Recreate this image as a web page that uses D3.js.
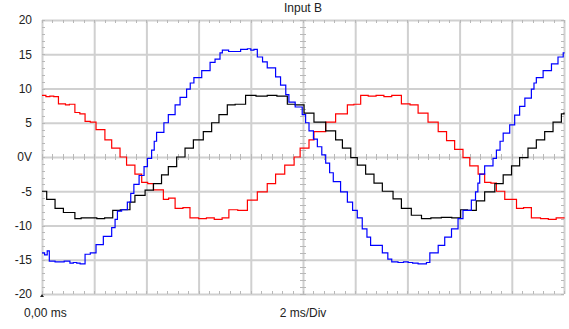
<!DOCTYPE html>
<html>
<head>
<meta charset="utf-8">
<script src="https://cdn.jsdelivr.net/npm/d3@7"></script>
<style>
  html, body { margin: 0; padding: 0; background: #fff; }
  svg { display: block; }
  text { font-family: "Liberation Sans", Arial, sans-serif; font-size: 12px; fill: #222; }
</style>
</head>
<body>
<svg id="chart" width="569" height="329"></svg>
<script>
// ---- data (time in ms, value in V) ----
const title = "Input B";
const xStartLabel = "0,00 ms";
const xDivLabel = "2 ms/Div";
const yTicks = [20, 15, 10, 5, 0, -5, -10, -15, -20];
const xGridTicks = [0, 2, 4, 6, 8, 10, 12, 14, 16, 18, 20];

const redSeries = [
  [0.00, 9.0], [0.15, 8.8], [0.30, 8.9], [0.45, 8.8], [0.63, 7.75], [0.9, 7.6], [1.05, 7.7],
  [1.26, 6.5], [1.45, 6.3], [1.65, 5.2], [1.85, 5.1], [2.07, 4.0], [2.41, 2.5], [2.67, 1.3],
  [2.99, 0.0], [3.24, -1.2], [3.56, -2.5], [3.82, -3.7], [4.05, -3.9], [4.27, -4.8],
  [4.65, -6.2], [4.85, -6.0], [5.10, -7.5], [5.40, -7.4], [5.67, -8.9], [6.0, -9.0],
  [6.3, -8.9], [6.6, -9.1], [6.9, -8.9], [7.16, -7.7], [7.5, -7.8], [7.87, -6.3],
  [8.25, -5.1], [8.63, -3.9], [8.95, -2.5], [9.30, -1.2], [9.66, 0.0], [9.89, 1.3],
  [10.23, 2.5], [10.42, 3.7], [10.87, 5.1], [11.25, 6.3], [11.70, 7.6], [11.95, 7.7],
  [12.21, 9.0], [12.5, 8.9], [12.8, 9.0], [13.1, 8.8], [13.4, 9.0], [13.77, 7.75],
  [14.1, 7.6], [14.41, 6.4], [14.79, 5.1], [15.18, 3.7], [15.50, 2.4], [15.81, 1.1],
  [16.13, -0.1], [16.39, -1.3], [16.71, -2.5], [16.96, -3.7], [17.2, -3.8], [17.41, -5.0],
  [17.73, -6.2], [18.18, -7.5], [18.45, -7.4], [18.75, -8.9], [19.1, -9.0], [19.4, -9.1],
  [19.7, -8.9], [20.0, -8.8]
];

const blueSeries = [
  [0.00, -14.0], [0.10, -14.3], [0.20, -13.7], [0.28, -15.2], [0.50, -15.3], [0.69, -15.3],
  [0.85, -15.2], [1.07, -15.5], [1.20, -15.4], [1.33, -15.5], [1.46, -15.6], [1.65, -14.2],
  [1.85, -14.0], [2.07, -12.8], [2.35, -11.6], [2.67, -10.3], [2.80, -9.1], [2.89, -7.9],
  [3.05, -7.7], [3.27, -6.6], [3.40, -5.3], [3.52, -4.0], [3.72, -2.7], [3.91, -1.4],
  [4.04, -0.2], [4.20, 1.0], [4.30, 2.3], [4.39, 3.6], [4.67, 5.0], [4.84, 6.2],
  [5.10, 7.6], [5.29, 8.7], [5.54, 9.9], [5.68, 10.8], [5.82, 11.6], [6.12, 12.6],
  [6.44, 13.8], [6.63, 14.3], [6.82, 15.2], [6.91, 15.6], [7.15, 15.4], [7.36, 15.4],
  [7.61, 15.7], [7.87, 15.8], [8.00, 15.6], [8.12, 15.7], [8.25, 14.6], [8.45, 13.9],
  [8.63, 13.0], [8.95, 11.7], [9.14, 10.5], [9.34, 9.1], [9.46, 8.0], [9.70, 7.3],
  [9.97, 6.2], [10.10, 5.0], [10.23, 3.8], [10.40, 2.6], [10.55, 1.5], [10.72, 0.3],
  [10.87, -0.9], [11.02, -2.3], [11.16, -3.6], [11.44, -5.1], [11.70, -6.6], [11.90, -7.8],
  [12.08, -8.9], [12.27, -10.5], [12.45, -11.7], [12.59, -12.9], [13.04, -14.0], [13.25, -14.9],
  [13.40, -15.3], [13.64, -15.4], [13.85, -15.3], [14.03, -15.4], [14.2, -15.5], [14.41, -15.6],
  [14.73, -15.4], [14.86, -14.0], [15.18, -12.9], [15.43, -11.7], [15.69, -10.5], [15.94, -9.0],
  [16.13, -7.8], [16.45, -6.3], [16.61, -5.1], [16.70, -3.8], [16.77, -2.5], [16.96, -1.3],
  [17.28, -0.2], [17.41, 1.0], [17.55, 2.3], [17.67, 3.5], [17.92, 4.7], [18.11, 6.1],
  [18.30, 7.4], [18.50, 8.6], [18.75, 9.9], [18.85, 10.8], [18.94, 11.6], [19.20, 12.6],
  [19.52, 13.6], [19.77, 14.6], [19.97, 15.2], [20.0, 15.3]
];

const blackSeries = [
  [0.00, -5.0], [0.18, -6.2], [0.50, -7.5], [0.82, -8.1], [1.26, -9.0], [1.50, -8.9],
  [1.84, -8.9], [2.10, -9.0], [2.40, -8.9], [2.71, -7.8], [3.00, -7.7], [3.37, -6.6],
  [3.56, -5.6], [3.95, -4.85], [4.27, -3.9], [4.58, -2.6], [4.84, -1.4], [5.16, 0.0],
  [5.48, 1.3], [5.80, 2.5], [6.18, 3.7], [6.50, 5.0], [6.78, 6.2], [7.10, 7.6],
  [7.40, 7.7], [7.80, 9.0], [8.20, 8.9], [8.63, 9.0], [9.00, 8.9], [9.40, 7.7],
  [9.70, 7.6], [10.04, 6.4], [10.42, 5.1], [10.87, 3.8], [11.25, 2.5], [11.51, 1.3],
  [11.83, -0.1], [12.08, -1.2], [12.40, -2.5], [12.72, -3.8], [13.04, -5.0], [13.45, -6.1],
  [13.77, -7.5], [14.15, -8.5], [14.54, -9.0], [14.9, -8.9], [15.30, -8.8], [15.7, -8.9],
  [16.04, -7.7], [16.30, -7.8], [16.64, -6.4], [16.96, -5.1], [17.35, -3.9], [17.67, -2.6],
  [17.99, -1.3], [18.30, -0.1], [18.62, 1.3], [18.94, 2.5], [19.26, 3.7], [19.58, 5.1],
  [19.90, 6.3], [20.0, 6.5]
];

// ---- layout ----
const svg = d3.select("#chart");
const plotL = 42, plotR = 564, plotT = 20, plotB = 294;
const x = d3.scaleLinear().domain([0, 20]).range([plotL, plotR]);
const y = d3.scaleLinear().domain([-20, 20]).range([plotB, plotT]);
const gridColor = "#d0d0d0";
const tickColor = "#b8b8b8";

// grid via axes
const gx = svg.append("g").attr("transform", `translate(0,${plotB})`)
  .call(d3.axisBottom(x).tickValues(xGridTicks).tickSize(-(plotB - plotT)).tickFormat(""));
const gy = svg.append("g").attr("transform", `translate(${plotL},0)`)
  .call(d3.axisLeft(y).tickValues(yTicks).tickSize(-(plotR - plotL)).tickFormat(""));
[gx, gy].forEach(g => {
  g.select(".domain").remove();
  g.selectAll(".tick line").attr("stroke", gridColor).attr("stroke-width", 2);
});

// minor ticks
const minorX = d3.range(0, 20.001, 0.4);
const minorY = d3.range(-20, 20.001, 1);
const mt = svg.append("g").attr("stroke", tickColor).attr("stroke-width", 1);
const tl = 3;
minorX.forEach(t => {
  const px = Math.round(x(t)) + 0.5;
  mt.append("line").attr("x1", px).attr("x2", px).attr("y1", plotT).attr("y2", plotT + tl);
  mt.append("line").attr("x1", px).attr("x2", px).attr("y1", plotB).attr("y2", plotB - tl);
  mt.append("line").attr("x1", px).attr("x2", px).attr("y1", y(0) - tl).attr("y2", y(0) + tl);
});
minorY.forEach(v => {
  const py = Math.round(y(v)) + 0.5;
  mt.append("line").attr("x1", plotL).attr("x2", plotL + tl).attr("y1", py).attr("y2", py);
  mt.append("line").attr("x1", plotR).attr("x2", plotR - tl).attr("y1", py).attr("y2", py);
  mt.append("line").attr("x1", x(10) - tl).attr("x2", x(10) + tl).attr("y1", py).attr("y2", py);
});

// y labels via axis
const ly = svg.append("g").attr("transform", `translate(${plotL},0)`)
  .call(d3.axisLeft(y).tickValues(yTicks).tickSize(0).tickPadding(10)
    .tickFormat(d => d === 0 ? "0V" : String(d)));
ly.select(".domain").remove();
ly.selectAll("text").style("font-size", "12px").attr("fill", "#222")
  .style("font-family", '"Liberation Sans", Arial, sans-serif');

// texts
svg.append("text").attr("x", x(10)).attr("y", 12).attr("text-anchor", "middle").text(title);
svg.append("text").attr("x", 24).attr("y", 317).text(xStartLabel);
svg.append("text").attr("x", x(10)).attr("y", 317).attr("text-anchor", "middle").text(xDivLabel);

// trigger marker
svg.append("path")
  .attr("d", `M${x(0) - 2},${plotB + 3} L${x(0) + 2},${plotB + 3} L${x(0)},${plotB} Z`)
  .attr("fill", "#222");

// traces
const line = d3.line().x(d => x(d[0])).y(d => y(d[1])).curve(d3.curveStepAfter);
const traces = [
  { data: redSeries, color: "#ff0000" },
  { data: blackSeries, color: "#000000" },
  { data: blueSeries, color: "#0000ff" }
];
svg.append("g").selectAll("path").data(traces).join("path")
  .attr("d", d => line(d.data))
  .attr("fill", "none")
  .attr("stroke", d => d.color)
  .attr("stroke-width", 1.2);
</script>
</body>
</html>
